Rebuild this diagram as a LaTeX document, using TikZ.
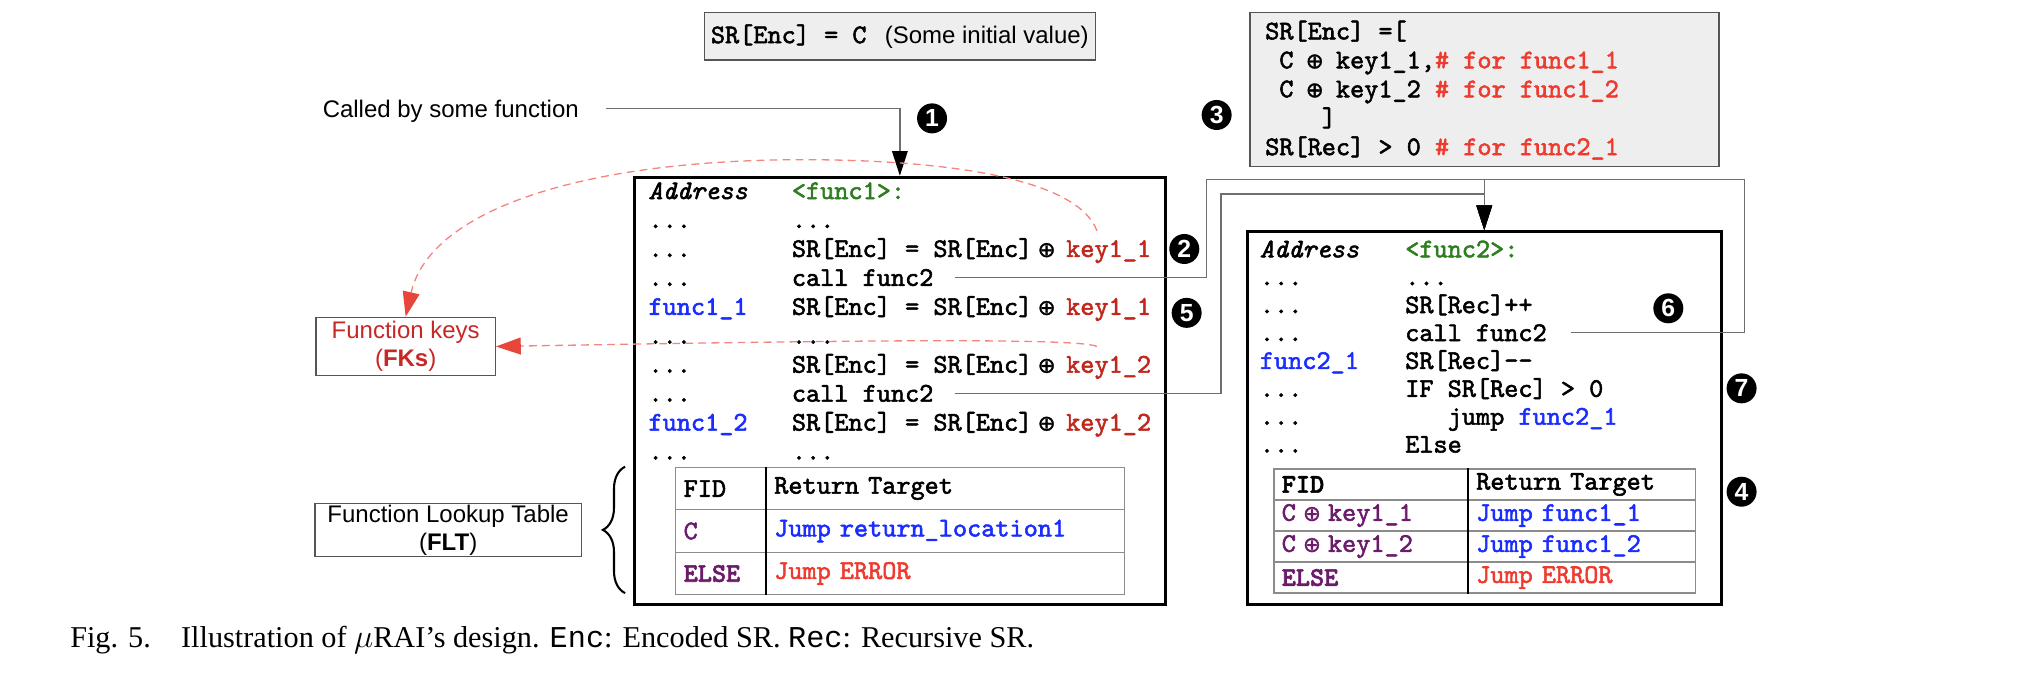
\documentclass[tikz,border=0pt]{standalone}
\usepackage{fontspec}
\setmainfont{Liberation Serif}
\newfontfamily\sansf{Liberation Sans}
\newfontfamily\codef{lmmono10-regular}[Extension=.otf, ItalicFont=lmmono10-italic, BoldFont=lmmonolt10-bold, FakeBold=2]
\newfontfamily\capmono{Liberation Mono}
\newfontfamily\symf{DejaVu Sans}[FakeBold=1.5]
\usetikzlibrary{arrows.meta,decorations.pathreplacing}
\definecolor{gfunc}{HTML}{2E7D1F}
\definecolor{bfunc}{HTML}{1A2CFF}
\definecolor{kred}{HTML}{C0281E}
\definecolor{cred}{HTML}{EE3B2F}
\definecolor{purp}{HTML}{6A1B6A}
\definecolor{boxfill}{HTML}{EEEEEE}
\definecolor{boxgray}{HTML}{555555}
\definecolor{conngray}{HTML}{6E6E6E}
\definecolor{tblgray}{HTML}{8C8C8C}
\definecolor{dashred}{HTML}{F4857C}
\definecolor{tipred}{HTML}{E8453C}
\definecolor{fkred}{HTML}{C62828}
\newcommand\cfs{\fontsize{20.67}{22.2}\selectfont}
\newcommand\sfs{\fontsize{18.4}{21.4}\selectfont}
\newcommand\oplusg{{\symf\fontsize{16.5}{16.5}\selectfont ⊕}}
\newcommand\xo{\hspace{4pt}\oplusg}
\newcommand\xm{\makebox[10.85pt]{\oplusg}}
\tikzset{
  codetxt/.style={anchor=base west, inner sep=0pt, font=\codef\cfs},
  lbl/.style={inner sep=0pt, font=\sansf\sfs},
  conn/.style={draw=conngray, line width=1pt},
  bigbox/.style={draw=black, line width=2.3pt, inner sep=0pt},
  graybox/.style={draw=boxgray, fill=boxfill, line width=1pt, inner sep=0pt},
  notebox/.style={draw=boxgray, line width=1pt, inner sep=0pt, align=center, font=\sansf\sfs},
  tcell/.style={draw=tblgray, line width=0.9pt, anchor=north west, inner xsep=6pt, inner ysep=0pt, align=left, font=\codef\cfs},
  numdot/.style={circle, fill=black, text=white, inner sep=0pt, minimum size=23pt, font=\sansf\bfseries\fontsize{19}{19}\selectfont},
  blackarrow/.style={-{Triangle[length=19pt,width=12pt,color=black]}},
  fkline/.style={draw=dashred, line width=1pt, dash pattern=on 6pt off 4pt, -{Triangle[length=19pt,width=13pt,color=tipred]}},
}
\begin{document}
\begin{tikzpicture}[x=1pt,y=-1pt]
\useasboundingbox (0,0) rectangle (1568,517);

% ---------- boxes ----------
\node[graybox, minimum width=300pt, minimum height=36.3pt, font=\sansf\sfs] (init) at (690.3,27.85)
  {{\codef\cfs SR[Enc] = C}\hspace{14pt}(Some initial value)};
\node[graybox, minimum width=359.8pt, minimum height=118.2pt] (srbox) at (1138.8,68.8) {};
\node[bigbox, minimum width=407.8pt, minimum height=328pt] (f1) at (690.3,300) {};
\node[bigbox, minimum width=364pt, minimum height=286.3pt] (f2) at (1138.6,320.85) {};
\node[notebox, text=fkred, minimum width=137.6pt, minimum height=44.8pt] (fks) at (311.2,265.8)
  {Function keys\\(\textbf{FKs})};
\node[notebox, minimum width=204.2pt, minimum height=40.6pt] (flt) at (343.8,406.7)
  {Function Lookup Table\\(\textbf{FLT})};

\node[lbl, anchor=base west] (called) at (247.4,90) {Called by some function};

% ---------- SR box text ----------
\node[codetxt] (sr1) at (970.4,30.2) {SR[Enc] =[};
\node[codetxt] (sr2) at (981.25,52.4) {C \xm{} key1\_1,\textcolor{cred}{\# for func1\_1}};
\node[codetxt] (sr3) at (981.25,74.6) {C \xm{} key1\_2 \textcolor{cred}{\# for func1\_2}};
\node[codetxt] (sr4) at (1013.8,96.8) {]};
\node[codetxt] (sr5) at (970.4,119.0) {SR[Rec] > 0 \textcolor{cred}{\# for func2\_1}};

% ---------- func1 ----------
\node[codetxt] (a1r0) at (497.3,152.7) {\itshape Address};
\node[codetxt, text=gfunc] (c1r0) at (607.3,152.7) {<func1>:};
\node[codetxt] (a1r1) at (497.3,174.9) {...};
\node[codetxt] (c1r1) at (607.3,174.9) {...};
\node[codetxt] (a1r2) at (497.3,197.1) {...};
\node[codetxt] (c1r2) at (607.3,197.1) {SR[Enc] = SR[Enc]\xo};
\node[codetxt, text=kred] (key11) at (817.7,197.1) {key1\_1};
\node[codetxt] (a1r3) at (497.3,219.3) {...};
\node[codetxt] (call1) at (607.3,219.3) {call func2};
\node[codetxt, text=bfunc] (a1r4) at (497.3,241.5) {func1\_1};
\node[codetxt] (c1r4) at (607.3,241.5) {SR[Enc] = SR[Enc]\xo};
\node[codetxt, text=kred] (key11b) at (817.7,241.5) {key1\_1};
\node[codetxt] (a1r5) at (497.3,263.7) {...};
\node[codetxt] (c1r5) at (607.3,263.7) {...};
\node[codetxt] (a1r6) at (497.3,285.9) {...};
\node[codetxt] (c1r6) at (607.3,285.9) {SR[Enc] = SR[Enc]\xo};
\node[codetxt, text=kred] (key12) at (817.7,285.9) {key1\_2};
\node[codetxt] (a1r7) at (497.3,308.1) {...};
\node[codetxt] (call2) at (607.3,308.1) {call func2};
\node[codetxt, text=bfunc] (a1r8) at (497.3,330.3) {func1\_2};
\node[codetxt] (c1r8) at (607.3,330.3) {SR[Enc] = SR[Enc]\xo};
\node[codetxt, text=kred] (key12b) at (817.7,330.3) {key1\_2};
\node[codetxt] (a1r9) at (497.3,352.5) {...};
\node[codetxt] (c1r9) at (607.3,352.5) {...};

% func1 table
\node[tcell, text width=57.5pt, minimum height=32.6pt] (t1a) at (518,358) {FID};
\node[tcell, text width=262.5pt, minimum height=32.6pt] (t1b) at (587.5,358) {Return Target};
\node[tcell, text width=57.5pt, minimum height=32.6pt, text=purp] (t1c) at (518,390.6) {C};
\node[tcell, text width=262.5pt, minimum height=32.6pt, text=bfunc] (t1d) at (587.5,390.6) {Jump return\_location1};
\node[tcell, text width=57.5pt, minimum height=32.6pt, text=purp] (t1e) at (518,423.2) {\bfseries ELSE};
\node[tcell, text width=262.5pt, minimum height=32.6pt, text=cred] (t1f) at (587.5,423.2) {Jump ERROR};
\draw[line width=1.5pt] (t1b.north west) -- (t1f.south west);

% ---------- func2 ----------
\node[codetxt] (a2r0) at (966.3,197.4) {\itshape Address};
\node[codetxt, text=gfunc] (c2r0) at (1077.8,197.4) {<func2>:};
\node[codetxt] (a2r1) at (966.3,218.8) {...};
\node[codetxt] (c2r1) at (1077.8,218.8) {...};
\node[codetxt] (a2r2) at (966.3,240.2) {...};
\node[codetxt] (c2r2) at (1077.8,240.2) {SR[Rec]++};
\node[codetxt] (a2r3) at (966.3,261.6) {...};
\node[codetxt] (call3) at (1077.8,261.6) {call func2};
\node[codetxt, text=bfunc] (a2r4) at (966.3,283.0) {func2\_1};
\node[codetxt] (c2r4) at (1077.8,283.0) {SR[Rec]-{}-};
\node[codetxt] (a2r5) at (966.3,304.4) {...};
\node[codetxt] (c2r5) at (1077.8,304.4) {IF SR[Rec] > 0};
\node[codetxt] (a2r6) at (966.3,325.8) {...};
\node[codetxt] (c2r6) at (1110.4,325.8) {jump \textcolor{bfunc}{func2\_1}};
\node[codetxt] (a2r7) at (966.3,347.2) {...};
\node[codetxt] (c2r7) at (1077.8,347.2) {Else};

% func2 table
\node[tcell, text width=137.2pt, minimum height=23.8pt] (t2a) at (976.8,359.3) {\bfseries FID};
\node[tcell, text width=162pt, minimum height=23.8pt] (t2b) at (1126,359.3) {Return Target};
\node[tcell, text width=137.2pt, minimum height=23.8pt, text=purp] (t2c) at (976.8,383.1) {C \xm{} key1\_1};
\node[tcell, text width=162pt, minimum height=23.8pt, text=bfunc] (t2d) at (1126,383.1) {Jump func1\_1};
\node[tcell, text width=137.2pt, minimum height=23.8pt, text=purp] (t2e) at (976.8,406.9) {C \xm{} key1\_2};
\node[tcell, text width=162pt, minimum height=23.8pt, text=bfunc] (t2f) at (1126,406.9) {Jump func1\_2};
\node[tcell, text width=137.2pt, minimum height=23.8pt, text=purp] (t2g) at (976.8,430.7) {\bfseries ELSE};
\node[tcell, text width=162pt, minimum height=23.8pt, text=cred] (t2h) at (1126,430.7) {Jump ERROR};
\draw[line width=1.5pt] (t2b.north west) -- (t2h.south west);

% brace
\draw[decorate, decoration={brace, amplitude=17pt}, line width=1.6pt] (479.5,455) -- (479.5,358);

% ---------- numbers ----------
\node[numdot] (n1) at (715,90.8) {1};
\node[numdot] (n2) at (908.5,191) {2};
\node[numdot] (n3) at (933.3,88.2) {3};
\node[numdot] (n4) at (1336,377.2) {4};
\node[numdot] (n5) at (910.3,240) {5};
\node[numdot] (n6) at (1279.8,236.5) {6};
\node[numdot] (n7) at (1336,297.9) {7};

% ---------- connectors ----------
\draw[conn, blackarrow] ([xshift=20.5pt,yshift=2pt]called.east) -| (f1.north);
\draw[conn, blackarrow] ([xshift=16pt]call1.east) -| (925.7,137.6) -| (f2.north);
\draw[conn, blackarrow] ([xshift=16pt]call2.east) -| (936.7,148.8) -| (f2.north);
\draw[conn, blackarrow] ([xshift=18.6pt]call3.east) -| (1338,137.6) -| (f2.north);

\draw[fkline] ([xshift=-9pt,yshift=7pt]key11.north) .. controls (828,140) and (740,123) .. (620,122.5)
  .. controls (450,122) and (330,160) .. (fks.north);
\draw[fkline] ([xshift=-9pt,yshift=7pt]key12.north) .. controls (830,259) and (650,261) .. (fks.east);

% ---------- caption ----------
\node[inner sep=0pt, anchor=base west, font=\fontsize{23.2}{26}\selectfont] (cap) at (53.7,497)
  {Fig. 5.\hspace{1em}Illustration of $\mu$RAI's design. {\capmono Enc}: Encoded SR. {\capmono Rec}: Recursive SR.};
\end{tikzpicture}
\end{document}
